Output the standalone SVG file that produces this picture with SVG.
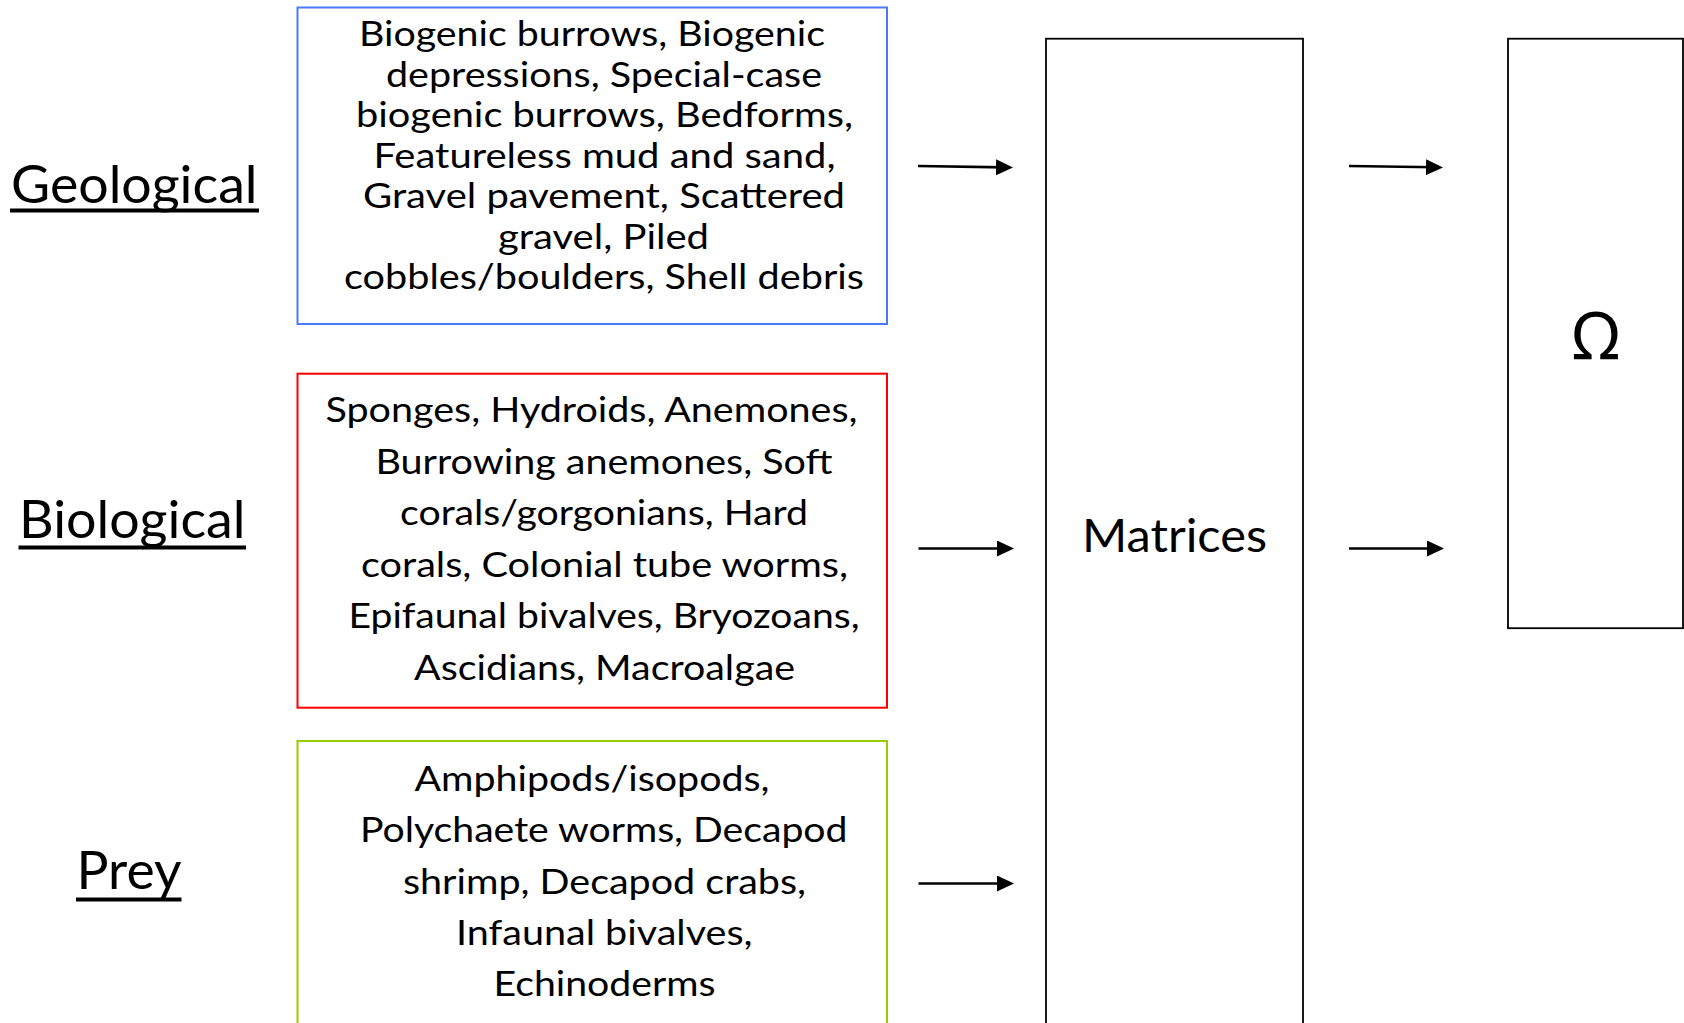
<svg xmlns="http://www.w3.org/2000/svg" width="1684" height="1023" viewBox="0 0 1684 1023">
<style>
.bg{fill:#ffffff}
.box{fill:#ffffff;stroke-width:2}
.blue{stroke:#4A7BF7}
.red{stroke:#FF0000}
.green{stroke:#99CC00}
.blk{fill:#ffffff;stroke:#000000;stroke-width:1.8}
.t{font-family:Lato,"Noto Sans","Liberation Sans",sans-serif;fill:#000000;font-size:34px}
.lbl{font-family:Lato,"Noto Sans","Liberation Sans",sans-serif;fill:#000000;font-size:52px}
.ul{fill:#000000}
.mat{font-family:Lato,"Noto Sans","Liberation Sans",sans-serif;fill:#000000;font-size:47px}
.om{font-family:"Noto Sans","DejaVu Sans",sans-serif;fill:#000000;font-size:66px}
.arr{stroke:#000000;stroke-width:2.6;fill:none;marker-end:url(#ah)}
</style>
<defs>
<marker id="ah" viewBox="0 0 17 16" refX="9" refY="8" markerWidth="17" markerHeight="16" markerUnits="userSpaceOnUse" orient="auto">
<path d="M0,0 L17,8 L0,16 Z" fill="#000000"/>
</marker>
</defs>
<rect class="bg" x="0" y="0" width="1684" height="1023"/>

<g id="label-geological">
<text class="lbl" x="11" y="203" textLength="246.5" lengthAdjust="spacingAndGlyphs">Geological</text>
<rect class="ul" x="10" y="208.5" width="249" height="4"/>
</g>
<g id="label-biological">
<text class="lbl" x="19" y="538" textLength="226.5" lengthAdjust="spacingAndGlyphs">Biological</text>
<rect class="ul" x="18.5" y="545.5" width="227.5" height="4"/>
</g>
<g id="label-prey">
<text class="lbl" x="76.5" y="889" textLength="105" lengthAdjust="spacingAndGlyphs">Prey</text>
<rect class="ul" x="76" y="897.5" width="105.5" height="4"/>
</g>

<g id="box-geological">
<rect class="box blue" x="297.5" y="7.5" width="589.5" height="316.5"/>
<text class="t" x="359" y="46" textLength="466" lengthAdjust="spacingAndGlyphs">Biogenic burrows, Biogenic</text>
<text class="t" x="386" y="86.5" textLength="436" lengthAdjust="spacingAndGlyphs">depressions, Special-case</text>
<text class="t" x="356" y="127" textLength="497" lengthAdjust="spacingAndGlyphs">biogenic burrows, Bedforms,</text>
<text class="t" x="373.5" y="167.5" textLength="462" lengthAdjust="spacingAndGlyphs">Featureless mud and sand,</text>
<text class="t" x="363" y="208" textLength="482" lengthAdjust="spacingAndGlyphs">Gravel pavement, Scattered</text>
<text class="t" x="498" y="248.5" textLength="211" lengthAdjust="spacingAndGlyphs">gravel, Piled</text>
<text class="t" x="344" y="289" textLength="520" lengthAdjust="spacingAndGlyphs">cobbles/boulders, Shell debris</text>
</g>

<g id="box-biological">
<rect class="box red" x="297.5" y="373.7" width="589.5" height="334"/>
<text class="t" x="325.5" y="422" textLength="532" lengthAdjust="spacingAndGlyphs">Sponges, Hydroids, Anemones,</text>
<text class="t" x="375.5" y="473.5" textLength="457" lengthAdjust="spacingAndGlyphs">Burrowing anemones, Soft</text>
<text class="t" x="400" y="525" textLength="408" lengthAdjust="spacingAndGlyphs">corals/gorgonians, Hard</text>
<text class="t" x="361" y="576.5" textLength="487" lengthAdjust="spacingAndGlyphs">corals, Colonial tube worms,</text>
<text class="t" x="348.5" y="628" textLength="511" lengthAdjust="spacingAndGlyphs">Epifaunal bivalves, Bryozoans,</text>
<text class="t" x="414" y="679.5" textLength="381" lengthAdjust="spacingAndGlyphs">Ascidians, Macroalgae</text>
</g>

<g id="box-prey">
<rect class="box green" x="297.5" y="741" width="589.5" height="300"/>
<text class="t" x="414.5" y="791" textLength="355" lengthAdjust="spacingAndGlyphs">Amphipods/isopods,</text>
<text class="t" x="360" y="842.3" textLength="487.5" lengthAdjust="spacingAndGlyphs">Polychaete worms, Decapod</text>
<text class="t" x="403" y="893.6" textLength="403" lengthAdjust="spacingAndGlyphs">shrimp, Decapod crabs,</text>
<text class="t" x="456" y="945" textLength="296.5" lengthAdjust="spacingAndGlyphs">Infaunal bivalves,</text>
<text class="t" x="493.5" y="996.3" textLength="222" lengthAdjust="spacingAndGlyphs">Echinoderms</text>
</g>

<g id="box-matrices">
<rect class="blk" x="1046" y="38.7" width="257" height="1000"/>
<text class="mat" x="1082" y="552" textLength="185" lengthAdjust="spacingAndGlyphs">Matrices</text>
</g>

<g id="box-omega">
<rect class="blk" x="1508" y="38.7" width="175" height="589.5"/>
<text class="om" x="1596" y="359" text-anchor="middle">Ω</text>
</g>

<g id="connectors">
<line class="arr" x1="918" y1="166" x2="1005" y2="167.4"/>
<line class="arr" x1="918.5" y1="548.5" x2="1006" y2="548.5"/>
<line class="arr" x1="918.5" y1="883.5" x2="1006" y2="883.5"/>
<line class="arr" x1="1349" y1="166" x2="1435" y2="167.3"/>
<line class="arr" x1="1349" y1="548.5" x2="1436" y2="548.5"/>
</g>
</svg>
